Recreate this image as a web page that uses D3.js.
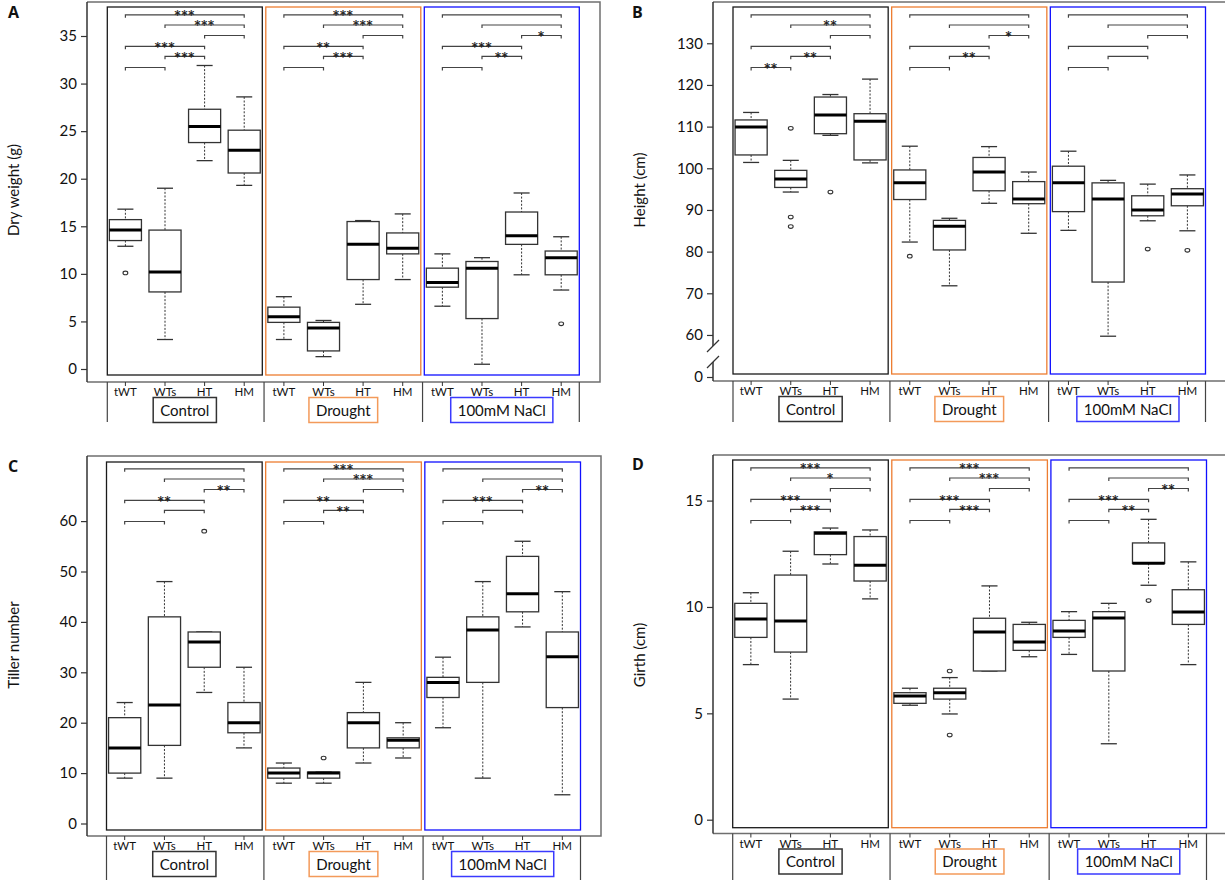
<!DOCTYPE html>
<html>
<head>
<meta charset="utf-8">
<script src="https://cdn.jsdelivr.net/npm/d3@7"></script>
<style>
  body { margin: 0; background: #fff; }
  svg { display: block; }
  text { font-family: Lato, "Open Sans", sans-serif; fill: #111; }
</style>
</head>
<body>
<svg id="chart" width="1225" height="880"></svg>
<script>
// ---------------- data ----------------
const groups = ["Control", "Drought", "100mM NaCl"];
const genotypes = ["tWT", "WTs", "HT", "HM"];
const groupColors = ["#1a1a1a", "#ED7D31", "#1010FF"];
const labelBoxColors = ["#333333", "#F39A5A", "#3A3AFF"];

// comparison brackets, drawn top to bottom
const bracketPairs = [["tWT", "HM"], ["WTs", "HM"], ["HT", "HM"], ["tWT", "HT"], ["WTs", "HT"], ["tWT", "WTs"]];

// five-number summaries: [lower whisker, Q1, median, Q3, upper whisker]
// rows: Control tWT, WTs, HT, HM, Drought tWT..HM, 100mM NaCl tWT..HM
const dryWeight = [
  [12.9, 13.5, 14.6, 15.7, 16.8],
  [3.1, 8.1, 10.2, 14.6, 19.0],
  [21.9, 23.8, 25.5, 27.3, 31.9],
  [19.3, 20.6, 23.0, 25.1, 28.6],
  [3.1, 4.9, 5.5, 6.5, 7.6],
  [1.3, 1.9, 4.3, 4.9, 5.1],
  [6.8, 9.4, 13.1, 15.5, 15.6],
  [9.4, 12.1, 12.7, 14.3, 16.3],
  [6.6, 8.6, 9.1, 10.6, 12.1],
  [0.5, 5.3, 10.6, 11.3, 11.7],
  [9.9, 13.1, 14.0, 16.5, 18.5],
  [8.3, 9.9, 11.7, 12.4, 13.9]
];
const dryWeightOutliers = [[10.1], [], [], [], [], [], [], [], [], [], [], [4.75]];
const dryWeightStars = [
  ["***", "***", "", "***", "***", ""],
  ["***", "***", "", "**", "***", ""],
  ["", "", "*", "***", "**", ""]
];
const dryWeightTicks = [0, 5, 10, 15, 20, 25, 30, 35];

const plantHeight = [
  [101.4, 103.2, 109.9, 111.6, 113.4],
  [94.3, 95.4, 97.4, 99.5, 101.9],
  [107.9, 108.3, 112.8, 117.1, 117.7],
  [101.3, 102.0, 111.3, 113.1, 121.4],
  [82.3, 92.5, 96.5, 99.6, 105.3],
  [71.8, 80.4, 86.1, 87.5, 88.0],
  [91.6, 94.6, 99.1, 102.6, 105.2],
  [84.4, 91.5, 92.6, 96.8, 99.1],
  [85.1, 89.6, 96.5, 100.5, 104.1],
  [59.7, 72.7, 92.6, 96.5, 97.1],
  [87.4, 88.6, 90.0, 93.4, 96.2],
  [85.0, 91.0, 93.8, 95.1, 98.4]
];
const plantHeightOutliers = [[], [109.6, 88.3, 86.0], [94.3], [], [78.9], [], [], [], [], [], [80.6], [80.3]];
const plantHeightStars = [
  ["", "**", "", "", "**", "**"],
  ["", "", "*", "", "**", ""],
  ["", "", "", "", "", ""]
];
const plantHeightTicks = [0, 60, 70, 80, 90, 100, 110, 120, 130];

const tillers = [
  [9, 10, 15, 21, 24],
  [9, 15.5, 23.5, 41, 48],
  [26, 31, 36, 38, 38],
  [15, 18, 20, 24, 31],
  [8, 9, 10, 11, 12],
  [8, 9, 10, 10.2, 10.2],
  [12, 15, 20, 22, 28],
  [13, 15, 16.5, 17, 20],
  [19, 25, 28, 29, 33],
  [9, 28, 38.4, 41, 48],
  [39, 42, 45.6, 53, 56],
  [5.7, 23, 33.1, 38, 46]
];
const tillerOutliers = [[], [], [58], [], [], [13], [], [], [], [], [], []];
const tillerStars = [
  ["", "", "**", "**", "", ""],
  ["***", "***", "", "**", "**", ""],
  ["", "", "**", "***", "", ""]
];
const tillerTicks = [0, 10, 20, 30, 40, 50, 60];

const girth = [
  [7.29, 8.57, 9.44, 10.17, 10.67],
  [5.67, 7.88, 9.34, 11.5, 12.62],
  [12.02, 12.46, 13.46, 13.53, 13.71],
  [10.38, 11.22, 11.96, 13.31, 13.62],
  [5.38, 5.47, 5.82, 5.97, 6.18],
  [4.97, 5.67, 5.97, 6.18, 6.68],
  [6.99, 6.99, 8.82, 9.47, 10.99],
  [7.66, 7.96, 8.35, 9.18, 9.28],
  [7.77, 8.57, 8.87, 9.37, 9.78],
  [3.57, 6.99, 9.48, 9.78, 10.17],
  [11.02, 12.05, 12.05, 13.01, 14.12],
  [7.29, 9.18, 9.76, 10.81, 12.12]
];
const girthOutliers = [[], [], [], [], [], [6.99, 3.98], [], [], [], [], [10.3], []];
const girthStars = [
  ["***", "*", "", "***", "***", ""],
  ["***", "***", "", "***", "***", ""],
  ["", "", "**", "***", "**", ""]
];
const girthTicks = [0, 5, 10, 15];

// ---------------- layout ----------------
const svg = d3.select("#chart");
const bracketOffsets = [12.8, 23, 33.5, 44.3, 54.3, 65.5];

const panels = [
  {
    letter: "A", letterX: 8, letterY: 18, title: "Dry weight (g)", titleX: 19, titleY: 190,
    frame: { x0: 87, x1: 600, y0: 2, y1: 382 }, inner: { x0: 107.3, x1: 579.3, y0: 7, y1: 375 },
    y: d3.scaleLinear().domain([0, 35]).range([369, 36]),
    ticks: dryWeightTicks, stats: dryWeight, outliers: dryWeightOutliers, stars: dryWeightStars,
    sepBottom: 422
  },
  {
    letter: "B", letterX: 632, letterY: 18, title: "Height (cm)", titleX: 645, titleY: 190,
    frame: { x0: 713, x1: 1226, y0: 2, y1: 381 }, inner: { x0: 733, x1: 1205.5, y0: 7, y1: 374 },
    // broken axis: 0 sits just below the 60-140 stretch
    y: d3.scaleLinear().domain([0, 55, 140]).range([377, 355.8, 1.6]),
    ticks: plantHeightTicks, stats: plantHeight, outliers: plantHeightOutliers, stars: plantHeightStars,
    sepBottom: 422, axisBreak: [346, 362]
  },
  {
    letter: "C", letterX: 8, letterY: 472, title: "Tiller number", titleX: 19, titleY: 645,
    frame: { x0: 87, x1: 601, y0: 456, y1: 836 }, inner: { x0: 106.5, x1: 580.5, y0: 462, y1: 830 },
    y: d3.scaleLinear().domain([0, 60]).range([823.5, 521.1]),
    ticks: tillerTicks, stats: tillers, outliers: tillerOutliers, stars: tillerStars,
    sepBottom: 880
  },
  {
    letter: "D", letterX: 632, letterY: 470, title: "Girth (cm)", titleX: 645, titleY: 655,
    frame: { x0: 713, x1: 1226, y0: 455, y1: 833.5 }, inner: { x0: 732.7, x1: 1206.5, y0: 460, y1: 827.7 },
    y: d3.scaleLinear().domain([0, 15]).range([819.7, 500.6]),
    ticks: girthTicks, stats: girth, outliers: girthOutliers, stars: girthStars,
    sepBottom: 880
  }
];

function drawPanel(p) {
  const g = svg.append("g");
  const f = p.frame, inn = p.inner, y = p.y;

  // outer frame: top, right and bottom edges
  g.append("path")
    .attr("d", `M${f.x0},${f.y0}H${f.x1}V${f.y1}H${f.x0}`)
    .attr("fill", "none").attr("stroke", "#6f6f6f").attr("stroke-width", 1.5);

  // left axis line (with optional break)
  if (p.axisBreak) {
    const [b0, b1] = p.axisBreak;
    g.append("path").attr("d", `M${f.x0},${f.y0}V${b0}M${f.x0},${b1}V${f.y1}`)
      .attr("stroke", "#333").attr("stroke-width", 1.5).attr("fill", "none");
    [b0, b1].forEach(b => {
      g.append("line").attr("x1", f.x0 - 6).attr("y1", b + 6).attr("x2", f.x0 + 6).attr("y2", b - 6)
        .attr("stroke", "#333").attr("stroke-width", 1.2);
    });
  } else {
    g.append("line").attr("x1", f.x0).attr("x2", f.x0).attr("y1", f.y0).attr("y2", f.y1)
      .attr("stroke", "#333").attr("stroke-width", 1.5);
  }

  // y axis ticks and labels
  const axis = d3.axisLeft(y).tickValues(p.ticks).tickSize(6).tickPadding(4).tickFormat(d3.format("d"));
  const ag = g.append("g").attr("transform", `translate(${f.x0},0)`).call(axis);
  ag.select(".domain").remove();
  ag.selectAll(".tick line").attr("stroke", "#333").attr("stroke-width", 1.2);
  ag.selectAll(".tick text").style("font-family", "Lato, 'Open Sans', sans-serif")
    .style("font-size", "15px").attr("fill", "#111");

  // axis title and panel letter
  g.append("text").attr("transform", `translate(${p.titleX},${p.titleY}) rotate(-90)`)
    .attr("text-anchor", "middle").style("font-size", "15px").text(p.title);
  g.append("text").attr("x", p.letterX).attr("y", p.letterY)
    .style("font-size", "16px").style("font-weight", "bold").style("font-family", "'Open Sans', sans-serif")
    .text(p.letter);

  // scales for groups and genotypes
  const xGroup = d3.scaleBand().domain(groups).range([inn.x0, inn.x1]).paddingInner(0.022).paddingOuter(0);
  const xGen = d3.scalePoint().domain(genotypes).range([0, xGroup.bandwidth()]).padding(0.457);
  const boxW = xGen.step() * 0.81;
  const capW = boxW / 2;

  groups.forEach((grp, gi) => {
    const gx = xGroup(grp);
    // treatment frame
    g.append("rect").attr("x", gx).attr("y", inn.y0)
      .attr("width", xGroup.bandwidth()).attr("height", inn.y1 - inn.y0)
      .attr("fill", "none").attr("stroke", groupColors[gi]).attr("stroke-width", 1.3);

    // boxplots
    genotypes.forEach((gen, ki) => {
      const s = p.stats[gi * 4 + ki];
      const cx = gx + xGen(gen);
      const [lo, q1, med, q3, hi] = s.map(v => y(v));
      const bg = g.append("g");
      bg.append("line").attr("x1", cx).attr("x2", cx).attr("y1", hi).attr("y2", q3)
        .attr("stroke", "#333").attr("stroke-width", 1).attr("stroke-dasharray", "2,1.6");
      bg.append("line").attr("x1", cx).attr("x2", cx).attr("y1", q1).attr("y2", lo)
        .attr("stroke", "#333").attr("stroke-width", 1).attr("stroke-dasharray", "2,1.6");
      [hi, lo].forEach(v => {
        bg.append("line").attr("x1", cx - capW / 2).attr("x2", cx + capW / 2).attr("y1", v).attr("y2", v)
          .attr("stroke", "#333").attr("stroke-width", 1.3);
      });
      bg.append("rect").attr("x", cx - boxW / 2).attr("y", q3).attr("width", boxW).attr("height", Math.max(q1 - q3, 0.5))
        .attr("fill", "#fff").attr("stroke", "#333").attr("stroke-width", 1.3);
      bg.append("line").attr("x1", cx - boxW / 2).attr("x2", cx + boxW / 2).attr("y1", med).attr("y2", med)
        .attr("stroke", "#000").attr("stroke-width", 3);
      p.outliers[gi * 4 + ki].forEach(o => {
        bg.append("ellipse").attr("cx", cx).attr("cy", y(o)).attr("rx", 2.4).attr("ry", 1.8)
          .attr("fill", "none").attr("stroke", "#333").attr("stroke-width", 1.1);
      });
    });

    // significance brackets
    bracketPairs.forEach((pair, li) => {
      const x1 = gx + xGen(pair[0]), x2 = gx + xGen(pair[1]);
      const by = f.y0 + bracketOffsets[li];
      g.append("path").attr("d", `M${x1},${by + 3}V${by}H${x2}V${by + 3}`)
        .attr("fill", "none").attr("stroke", "#444").attr("stroke-width", 1.2);
      const st = p.stars[gi][li];
      if (st) {
        g.append("text").attr("x", (x1 + x2) / 2).attr("y", by + 4.2).attr("text-anchor", "middle")
          .style("font-family", "'DejaVu Sans', sans-serif").style("font-size", "12px")
          .style("letter-spacing", "0.8px").attr("fill", "#222")
          .attr("stroke", "#222").attr("stroke-width", 0.25).text(st);
      }
    });

    // genotype ticks and labels
    genotypes.forEach(gen => {
      const cx = gx + xGen(gen);
      g.append("line").attr("x1", cx).attr("x2", cx).attr("y1", f.y1).attr("y2", f.y1 + 4)
        .attr("stroke", "#333").attr("stroke-width", 1);
      g.append("text").attr("x", cx).attr("y", f.y1 + 14).attr("text-anchor", "middle")
        .style("font-size", "11.5px").text(gen);
    });

    // treatment label box
    const cxg = gx + xGroup.bandwidth() / 2;
    const labelBox = g.append("rect");
    const t = g.append("text").attr("x", cxg).attr("y", f.y1 + 33.5).attr("text-anchor", "middle")
      .style("font-size", "15px").text(grp);
    const tw = t.node().getComputedTextLength();
    labelBox.attr("x", cxg - tw / 2 - 7).attr("y", f.y1 + 15.5)
      .attr("width", tw + 14).attr("height", 25)
      .attr("fill", "#fff").attr("stroke", labelBoxColors[gi]).attr("stroke-width", 1.5);
  });

  // separators below the axis
  const step = xGroup.step();
  const half = (step - xGroup.bandwidth()) / 2;
  const seps = [inn.x0, inn.x0 + step - half, inn.x0 + 2 * step - half, inn.x1];
  seps.forEach(sx => {
    g.append("line").attr("x1", sx).attr("x2", sx).attr("y1", f.y1).attr("y2", p.sepBottom)
      .attr("stroke", "#444").attr("stroke-width", 1.2);
  });
}

panels.forEach(drawPanel);
</script>
</body>
</html>
